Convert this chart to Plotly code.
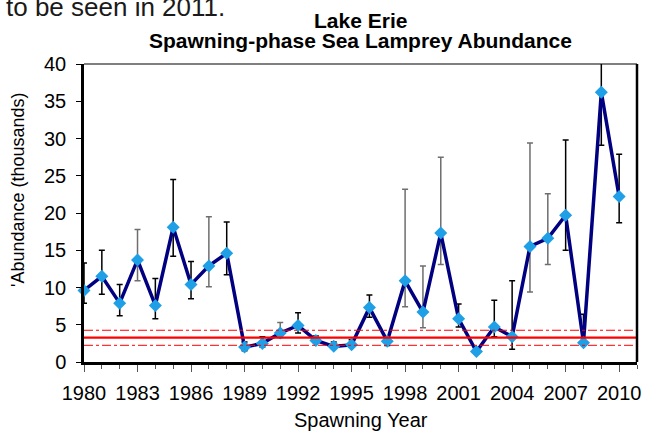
import plotly.graph_objects as go

years = list(range(1980, 2011))
abundance = [9.6, 11.5, 7.9, 13.7, 7.6, 18.1, 10.4, 12.9, 14.6, 2.0,
             2.5, 3.9, 4.9, 2.9, 2.1, 2.3, 7.3, 2.8, 10.9, 6.7,
             17.3, 5.8, 1.4, 4.7, 3.4, 15.5, 16.6, 19.7, 2.6, 36.2, 22.2]
upper = [13.3, 15.0, 10.4, 17.8, 11.2, 24.5, 13.5, 19.5, 18.8, 2.7,
         3.4, 5.3, 6.6, 3.5, 2.7, 3.0, 9.0, 3.0, 23.2, 12.9,
         27.5, 7.8, 1.8, 8.3, 10.9, 29.4, 22.6, 29.8, 6.4, 45.0, 27.9]
lower = [7.9, 9.1, 6.2, 10.9, 5.8, 14.2, 8.5, 10.1, 11.7, 1.5,
         2.0, 3.3, 3.9, 2.6, 1.8, 2.0, 6.0, 2.2, 7.4, 4.6,
         13.1, 4.7, 1.1, 3.4, 1.7, 9.4, 13.1, 15.0, 2.3, 29.1, 18.7]
gray_bar_years = [1983, 1987, 1991, 1998, 1999, 2000, 2005, 2006]
target_mean = 3.27
target_upper = 4.26
target_lower = 2.24
major_tick_years = [1980, 1983, 1986, 1989, 1992, 1995, 1998, 2001, 2004, 2007, 2010]
major_tick_labels = ["1980", "1983", "1986", "1989", "1992", "1995", "1998",
                     "2001", "2004", "2007", "2010"]
minor_tick_years = list(range(1980, 2012))

FONT = "Liberation Sans, Arial, sans-serif"

fig = go.Figure()

for grp, col in (("black", "#000000"), ("gray", "#6e6e6e")):
    xs, ys, ep, em = [], [], [], []
    for y, v, u, l in zip(years, abundance, upper, lower):
        isgray = y in gray_bar_years
        if (grp == "gray") == isgray:
            xs.append(y); ys.append(v); ep.append(u - v); em.append(v - l)
    fig.add_trace(go.Scatter(
        x=xs, y=ys, mode="markers", marker=dict(size=1, opacity=0),
        error_y=dict(type="data", symmetric=False, array=ep, arrayminus=em,
                     color=col, thickness=1.5, width=3),
        showlegend=False, hoverinfo="skip"))

fig.add_trace(go.Scatter(
    x=years, y=abundance, mode="lines+markers",
    line=dict(color="#000080", width=3.5),
    marker=dict(symbol="diamond", size=10, color="#1E9FE6"),
    cliponaxis=False, showlegend=False))

shapes = [
    dict(type="line", xref="paper", yref="y", x0=0, x1=1, y0=target_mean, y1=target_mean,
         line=dict(color="#FF0000", width=2.2)),
    dict(type="line", xref="paper", yref="y", x0=0, x1=1, y0=target_upper, y1=target_upper,
         line=dict(color="#FF0000", width=1, dash="dashdot")),
    dict(type="line", xref="paper", yref="y", x0=0, x1=1, y0=target_lower, y1=target_lower,
         line=dict(color="#FF0000", width=1, dash="dashdot")),
    dict(type="line", xref="paper", yref="paper", x0=0, x1=1, y0=1, y1=1,
         line=dict(color="#000000", width=1.2)),
    dict(type="line", xref="paper", yref="paper", x0=1, x1=1, y0=0, y1=1,
         line=dict(color="#000000", width=2.5)),
]

PLOT_TOP, PLOT_BOTTOM = 64, 362


def py(page_y):
    return (PLOT_BOTTOM - page_y) / (PLOT_BOTTOM - PLOT_TOP)


fig.update_layout(
    width=649, height=433,
    margin=dict(l=84, r=8, t=64, b=71),
    paper_bgcolor="white", plot_bgcolor="white",
    font=dict(family=FONT, color="#000000"),
    shapes=shapes,
    xaxis=dict(range=[1980, 2011], tickmode="array", tickvals=major_tick_years,
               ticktext=major_tick_labels,
               ticks="outside", ticklen=7, tickwidth=1, tickcolor="#555555",
               tickfont=dict(size=20), ticklabelstandoff=4,
               minor=dict(tickmode="array", tickvals=minor_tick_years, ticks="outside",
                          ticklen=4, tickcolor="#555555", tickwidth=1),
               showline=True, linecolor="#000000", linewidth=3, showgrid=False, zeroline=False),
    yaxis=dict(range=[0, 40], dtick=5, ticks="outside", ticklen=5, tickcolor="#000000",
               tickfont=dict(size=20), ticklabelstandoff=6,
               showline=True, linecolor="#000000", linewidth=2.5, showgrid=False, zeroline=False),
    annotations=[
        dict(text="<b>Lake Erie</b>", xref="paper", yref="paper",
             x=0.5, y=py(20), xanchor="center", yanchor="middle", showarrow=False,
             font=dict(size=21, family=FONT)),
        dict(text="<b>Spawning-phase Sea Lamprey Abundance</b>", xref="paper", yref="paper",
             x=0.5, y=py(41), xanchor="center", yanchor="middle", showarrow=False,
             font=dict(size=21, family=FONT)),
        dict(text="Spawning Year", xref="paper", yref="paper",
             x=0.5, y=py(420), xanchor="center", yanchor="middle", showarrow=False,
             font=dict(size=20, family=FONT)),
        dict(text="'Abundance (thousands)", xref="paper", yref="paper", x=0, xshift=-66,
             y=py(190), textangle=-90, xanchor="center", yanchor="middle", showarrow=False,
             font=dict(size=18, family=FONT)),
        dict(text="to be seen in 2011.", xref="paper", yref="paper", x=0, xshift=-80,
             y=py(7), xanchor="left", yanchor="middle", showarrow=False,
             font=dict(size=26, color="#1a1a1a", family=FONT)),
    ],
)

fig.write_html("out.html", config={"displayModeBar": False},
               post_script="document.body.style.margin='0';document.body.style.overflow='hidden';")
